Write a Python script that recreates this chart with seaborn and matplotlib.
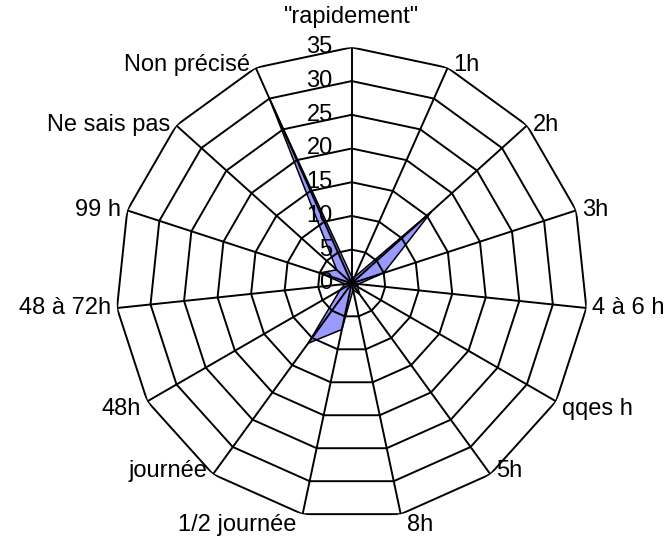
import numpy as np
import matplotlib
matplotlib.use("Agg")
import matplotlib.pyplot as plt
import seaborn as sns

# Response delays and how many answers fell in each
categories = ['"rapidement"', '1h', '2h', '3h', '4 à 6 h', 'qqes h', '5h', '8h',
              '1/2 journée', 'journée', '48h', '48 à 72h', '99 h', 'Ne sais pas',
              'Non précisé']
counts = [1, 1, 16, 5, 1, 1, 2, 1, 7, 11, 2, 1, 5, 3, 30]
r_ticks = [0, 5, 10, 15, 20, 25, 30, 35]

sns.set_theme(style="white")
plt.rcParams['font.family'] = ['Liberation Sans', 'DejaVu Sans']

FS = 17
fig = plt.figure(figsize=(6.7, 5.38), dpi=100)
fig.patch.set_facecolor('white')
ax = fig.add_axes([0.1727, 0.0347, 0.7044, 0.8773], projection='polar')
ax.set_theta_zero_location('N')
ax.set_theta_direction(-1)
ax.set_ylim(0, r_ticks[-1])
ax.grid(False)
for sp in ax.spines.values():
    sp.set_visible(False)
ax.set_xticks([])
ax.set_yticks([])
ax.patch.set_alpha(0)

n = len(categories)
theta = np.arange(n) * 2 * np.pi / n
t_closed = np.append(theta, theta[0])
v_closed = counts + [counts[0]]

# filled series
ax.fill(t_closed, v_closed, facecolor='#9999FF', edgecolor='black',
        linewidth=1.1, zorder=2)

# polygonal web: rings and spokes
for rv in r_ticks[1:]:
    ax.plot(t_closed, [rv] * (n + 1), color='black', linewidth=1.4, zorder=3)
for t in theta:
    ax.plot([t, t], [0, r_ticks[-1]], color='black', linewidth=1.4, zorder=3)

# radial value labels on the vertical axis
for rv in r_ticks:
    ax.annotate(str(rv), xy=(0, rv), xytext=(-19, 0), textcoords='offset pixels',
                ha='right', va='center', fontsize=FS, color='black', zorder=4,
                annotation_clip=False)

# category labels at the outer vertices
for t, lab in zip(theta, categories):
    s, c = np.sin(t), np.cos(t)
    if abs(s) < 0.05:
        ha, dx = 'center', 0
    elif s > 0:
        ha, dx = 'left', 6
    else:
        ha, dx = 'right', -6
    if c > 0.95:
        va, dy = 'bottom', 19
    elif c < -0.95:
        va, dy = 'top', 0
    elif -0.6 < c < -0.4:
        va, dy = 'center', -8
    elif -0.85 < c < -0.75:
        va, dy = 'center', 3
    elif 0.85 < c < 0.95:
        va, dy = 'center', 3
    else:
        va, dy = 'center', 0
    ax.annotate(lab, xy=(t, r_ticks[-1]), xytext=(dx, dy), textcoords='offset pixels',
                ha=ha, va=va, fontsize=FS, color='black', annotation_clip=False)

fig.savefig('out.png', dpi=100, facecolor='white')
